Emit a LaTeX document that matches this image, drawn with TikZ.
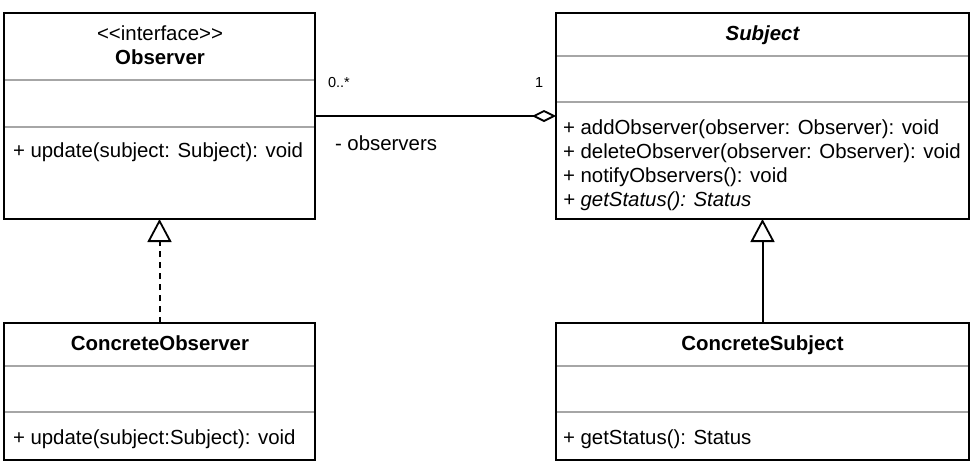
\documentclass[tikz,border=0pt]{standalone}
\usepackage{fontspec}
\setmainfont{Liberation Sans}
\usetikzlibrary{arrows.meta}
\begin{document}
\begin{tikzpicture}[x=1pt,y=-1pt,
  classbox/.style={draw=black,line width=1.8pt,inner sep=0pt,outer sep=0pt,fill=white},
  divider/.style={draw=gray!70,line width=1.5pt},
  txt/.style={inner sep=0pt,outer sep=0pt,font=\fontsize{20.4}{24}\selectfont},
  small/.style={inner sep=0pt,outer sep=0pt,font=\fontsize{14.5}{17}\selectfont},
  conn/.style={line width=2pt,black}]
\useasboundingbox[fill=white] (0,0) rectangle (977,469);
% boxes
\node[classbox,minimum width=311pt,minimum height=206pt] (obs) at (159.5,116) {};
\node[classbox,minimum width=413pt,minimum height=206pt] (subj) at (762.5,116) {};
\node[classbox,minimum width=311pt,minimum height=137pt] (cobs) at (159.5,391.5) {};
\node[classbox,minimum width=413pt,minimum height=137pt] (csubj) at (762.5,391.5) {};
% dividers
\draw[divider] ([xshift=1pt]obs.west |- 0,80) -- ([xshift=-1pt]obs.east |- 0,80);
\draw[divider] ([xshift=1pt]obs.west |- 0,127) -- ([xshift=-1pt]obs.east |- 0,127);
\draw[divider] ([xshift=1pt]subj.west |- 0,56) -- ([xshift=-1pt]subj.east |- 0,56);
\draw[divider] ([xshift=1pt]subj.west |- 0,102) -- ([xshift=-1pt]subj.east |- 0,102);
\draw[divider] ([xshift=1pt]cobs.west |- 0,366) -- ([xshift=-1pt]cobs.east |- 0,366);
\draw[divider] ([xshift=1pt]cobs.west |- 0,412) -- ([xshift=-1pt]cobs.east |- 0,412);
\draw[divider] ([xshift=1pt]csubj.west |- 0,366) -- ([xshift=-1pt]csubj.east |- 0,366);
\draw[divider] ([xshift=1pt]csubj.west |- 0,412) -- ([xshift=-1pt]csubj.east |- 0,412);
% Observer texts
\node[txt,anchor=base] (obsster) at (160,40) {{<}{<}interface{>}{>}};
\node[txt,anchor=base,font=\fontsize{20.4}{24}\selectfont\bfseries] (obsname) at (160,64) {Observer};
\node[txt,anchor=base west] (obsm1) at (13,157) {+ update(subject: Subject): void};
% Subject texts
\node[txt,anchor=base,font=\fontsize{20.4}{24}\selectfont\bfseries\itshape] (subjname) at (762.5,40) {Subject};
\node[txt,anchor=base west] (subjm1) at (563,134) {+ addObserver(observer: Observer): void};
\node[txt,anchor=base west] (subjm2) at (563,158) {+ deleteObserver(observer: Observer): void};
\node[txt,anchor=base west] (subjm3) at (563,182) {+ notifyObservers(): void};
\node[txt,anchor=base west,font=\fontsize{20.4}{24}\selectfont\itshape] (subjm4) at (563,206) {+ getStatus(): Status};
% ConcreteObserver texts
\node[txt,anchor=base,font=\fontsize{20.4}{24}\selectfont\bfseries] (cobsname) at (160,350) {ConcreteObserver};
\node[txt,anchor=base west] (cobsm1) at (13,444) {+ update(subject:Subject): void};
% ConcreteSubject texts
\node[txt,anchor=base,font=\fontsize{20.4}{24}\selectfont\bfseries] (csubjname) at (762.5,350) {ConcreteSubject};
\node[txt,anchor=base west] (csubjm1) at (563,444) {+ getStatus(): Status};
% connectors
\draw[conn,-{Diamond[open,length=24pt,width=12pt,line width=1.8pt]}] (obs.east) -- (subj.west);
\draw[conn,dash pattern=on 6pt off 5pt,-{Triangle[open,length=23pt,width=24pt,line width=1.8pt]}] (cobs.north) -- (obs.south);
\draw[conn,-{Triangle[open,length=23pt,width=24pt,line width=1.8pt]}] (csubj.north) -- (subj.south);
% association labels
\node[small,anchor=base west] (mult1) at (328,87) {0..*};
\node[small,anchor=base west] (mult2) at (535,87) {1};
\node[txt,anchor=base west] (role) at (335,150) {- observers};
\end{tikzpicture}
\end{document}
